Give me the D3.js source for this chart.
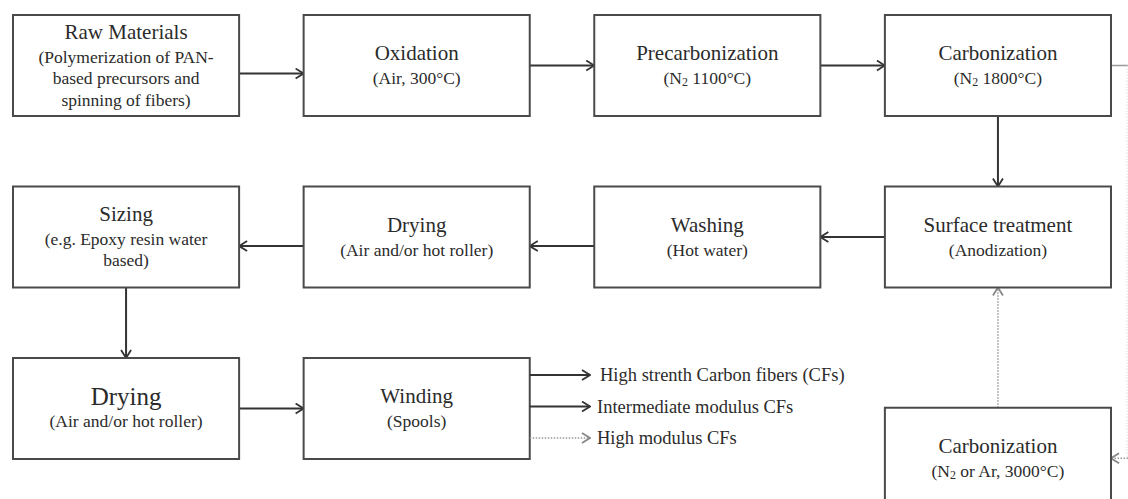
<!DOCTYPE html>
<html>
<head>
<meta charset="utf-8">
<script src="https://cdn.jsdelivr.net/npm/d3@7"></script>
<style>
  body { margin: 0; background: #fff; }
  text { font-family: "Liberation Serif", "Times New Roman", serif; fill: #2b2b2b; }
</style>
</head>
<body>
<svg id="flow"></svg>
<script>
// process steps
const stepTitles = ["Raw Materials", "Oxidation", "Precarbonization", "Carbonization",
  "Surface treatment", "Washing", "Drying", "Sizing", "Drying", "Winding", "Carbonization"];
const stepNotes = [
  ["(Polymerization of PAN-", "based precursors and", "spinning of fibers)"],
  ["(Air, 300°C)"],
  ["(N_2 1100°C)"],
  ["(N_2 1800°C)"],
  ["(Anodization)"],
  ["(Hot water)"],
  ["(Air and/or hot roller)"],
  ["(e.g. Epoxy resin water", "based)"],
  ["(Air and/or hot roller)"],
  ["(Spools)"],
  ["(N_2 or Ar, 3000°C)"]
];
const stepCol = [0, 1, 2, 3, 3, 2, 1, 0, 0, 1, 3];
const stepRow = [0, 0, 0, 0, 1, 1, 1, 1, 2, 2, 2.29];

// links: [from, to, kind]
const flowLinks = [[0, 1, "h"], [1, 2, "h"], [2, 3, "h"], [3, 4, "v"], [4, 5, "h"],
  [5, 6, "h"], [6, 7, "h"], [7, 8, "v"], [8, 9, "h"], [10, 4, "vd"]];
const linkLevel = [0.58, 0.5, 0.5, 0.5, 0.5, 0.59, 0.59, 0.5, 0.5, 0.5];

const products = ["High strenth Carbon fibers (CFs)", "Intermediate modulus CFs", "High modulus CFs"];
const productDotted = [false, false, true];

const width = 1128, height = 499;
const boxH = 101;

const svg = d3.select("#flow").attr("width", width).attr("height", height);

const defs = svg.append("defs");
function addMarker(id, color) {
  defs.append("marker")
    .attr("id", id)
    .attr("viewBox", "0 0 10 12")
    .attr("refX", 9).attr("refY", 6)
    .attr("markerWidth", 10).attr("markerHeight", 12)
    .attr("markerUnits", "userSpaceOnUse")
    .attr("orient", "auto")
    .append("path")
    .attr("d", "M1,1 L9,6 L1,11")
    .attr("fill", "none")
    .attr("stroke", color)
    .attr("stroke-width", 1.8);
}
addMarker("arr", "#333");
addMarker("arrGray", "#888");

const xScale = d3.scaleBand().domain([0, 1, 2, 3]).range([13, 1111]).paddingInner(0.222);
const yScale = d3.scaleLinear().domain([0, 2]).range([15, 358]);
const bw = xScale.bandwidth();

const nodes = stepTitles.map((t, i) => ({
  i, title: t, notes: stepNotes[i],
  x: xScale(stepCol[i]), y: yScale(stepRow[i])
}));

// links first so boxes sit on top
const linkG = svg.append("g");
flowLinks.forEach(([a, b, kind], k) => {
  const s = nodes[a], t = nodes[b];
  let pts;
  if (kind === "h") {
    const y = s.y + boxH * linkLevel[k];
    pts = s.x < t.x ? [[s.x + bw, y], [t.x, y]] : [[s.x, y], [t.x + bw, y]];
  } else if (kind === "v") {
    const x = s.x + bw / 2;
    pts = [[x, s.y + boxH], [x, t.y]];
  } else {
    const x = s.x + bw / 2;
    pts = [[x, s.y], [x, t.y + boxH]];
  }
  const dotted = kind === "vd";
  linkG.append("path")
    .attr("d", d3.line()(pts))
    .attr("fill", "none")
    .attr("stroke", dotted ? "#999" : "#333")
    .attr("stroke-width", dotted ? 1.5 : 2)
    .attr("stroke-dasharray", dotted ? "1.5,1.5" : null)
    .attr("marker-end", dotted ? "url(#arrGray)" : "url(#arr)");
});

// the loop off the right edge: carbonization -> high temp carbonization
{
  const s = nodes[3], t = nodes[10];
  const y0 = s.y + boxH * 0.5, y1 = t.y + boxH * 0.5;
  linkG.append("path")
    .attr("d", d3.line()([[s.x + bw, y0], [width, y0]]))
    .attr("stroke", "#999").attr("stroke-width", 1.5).attr("fill", "none");
  linkG.append("path")
    .attr("d", d3.line()([[width - 1, y0], [width - 1, y1]]))
    .attr("stroke", "#ddd").attr("stroke-width", 1).attr("stroke-dasharray", "1.5,1.5").attr("fill", "none");
  linkG.append("path")
    .attr("d", d3.line()([[width, y1], [t.x + bw, y1]]))
    .attr("stroke", "#999").attr("stroke-width", 1.5).attr("stroke-dasharray", "1.5,1.5")
    .attr("fill", "none").attr("marker-end", "url(#arrGray)");
}

// boxes
const boxG = svg.append("g").selectAll("g").data(nodes).join("g")
  .attr("transform", d => `translate(${d.x},${d.y})`);

boxG.append("rect")
  .attr("width", bw).attr("height", boxH)
  .attr("fill", "#fff")
  .attr("stroke", "#4a4a4a")
  .attr("stroke-width", 2);

function writeLine(sel, str, size) {
  const parts = str.split("_");
  parts.forEach((p, j) => {
    if (j === 0) { sel.append("tspan").text(p); return; }
    sel.append("tspan").attr("dy", 4).attr("font-size", size * 0.68).text(p[0]);
    sel.append("tspan").attr("dy", -4).text(p.slice(1));
  });
}

boxG.each(function (d) {
  const g = d3.select(this);
  const titleSize = d.i === 8 ? 25 : 21;
  const noteSize = 17.5;
  const block = 25 + (d.notes.length - 1) * 21.5;
  const top = boxH / 2 - block / 2;
  g.append("text")
    .attr("x", bw / 2).attr("y", top)
    .attr("text-anchor", "middle")
    .attr("dominant-baseline", "central")
    .attr("font-size", titleSize)
    .text(d.title);
  d.notes.forEach((n, j) => {
    const t = g.append("text")
      .attr("x", bw / 2).attr("y", top + 25 + j * 21.5)
      .attr("text-anchor", "middle")
      .attr("dominant-baseline", "central")
      .attr("font-size", noteSize);
    writeLine(t, n, noteSize);
  });
});

// winding outputs
const wind = nodes[9];
const prodY = d3.scalePoint().domain(products).range([wind.y + 17, wind.y + 80]);
const prodG = svg.append("g").selectAll("g").data(products).join("g");
prodG.append("path")
  .attr("d", d => d3.line()([[wind.x + bw, prodY(d)], [590, prodY(d)]]))
  .attr("fill", "none")
  .attr("stroke", (d, i) => productDotted[i] ? "#999" : "#333")
  .attr("stroke-width", (d, i) => productDotted[i] ? 1.5 : 2)
  .attr("stroke-dasharray", (d, i) => productDotted[i] ? "1.5,1.5" : null)
  .attr("marker-end", (d, i) => productDotted[i] ? "url(#arrGray)" : "url(#arr)");
prodG.append("text")
  .attr("x", (d, i) => i === 0 ? 600 : 597)
  .attr("y", d => prodY(d))
  .attr("dominant-baseline", "central")
  .attr("font-size", 18.5)
  .text(d => d);
</script>
</body>
</html>
